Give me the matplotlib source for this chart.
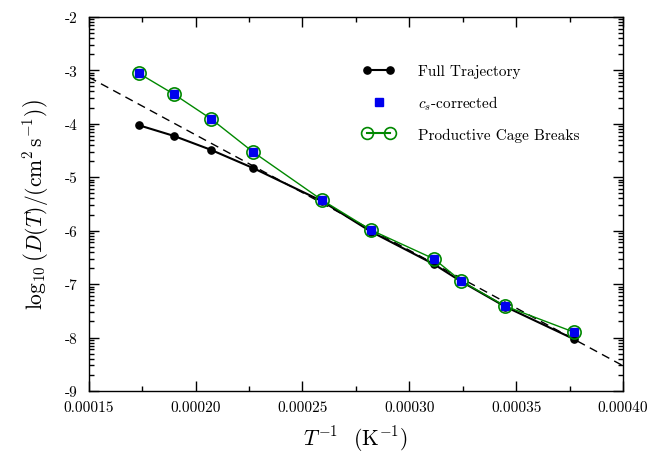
import matplotlib
matplotlib.use("Agg")
import matplotlib.pyplot as plt
import numpy as np
from matplotlib.lines import Line2D
from matplotlib.legend_handler import HandlerLine2D
from matplotlib.ticker import FixedLocator, FormatStrFormatter, MultipleLocator

plt.rcParams['font.family'] = 'serif'
plt.rcParams['font.serif'] = ['cmr10']
plt.rcParams['mathtext.fontset'] = 'cm'
plt.rcParams['axes.unicode_minus'] = False
plt.rcParams['axes.formatter.use_mathtext'] = True

# inverse temperature (1/K)
inv_T = [0.0001735, 0.0001899, 0.0002072, 0.0002269, 0.0002592,
         0.0002821, 0.0003116, 0.0003242, 0.0003448, 0.0003771]

# log10 D for each series
logD_full = [-4.03, -4.23, -4.49, -4.83, -5.45, -6.02, -6.63, -6.95, -7.42, -8.03]
logD_cs = [-3.06, -3.45, -3.91, -4.53, -5.43, -5.99, -6.53, -6.94, -7.41, -7.90]
logD_cage = [-3.06, -3.45, -3.91, -4.53, -5.43, -5.99, -6.53, -6.94, -7.41, -7.90]

# Arrhenius fit line (intercept, slope)
fit_intercept = 0.108
fit_slope = -21588.0

GREEN = '#008800'
BLUE = '#0000ee'

fig = plt.figure(figsize=(6.51, 4.60), dpi=100)
ax = fig.add_axes([0.1363, 0.1478, 0.8207, 0.8137])

xfit = np.linspace(0.00015, 0.00040, 200)
ax.plot(xfit, fit_intercept + fit_slope * xfit, color='black', linestyle=(0, (6, 4)),
        linewidth=1.0, zorder=1)

ax.plot(inv_T, logD_full, color='black', linewidth=1.5, marker='o', markersize=5.2, zorder=2)
ax.plot(inv_T, logD_cage, color=GREEN, linewidth=1.0, zorder=3)
ax.plot(inv_T, logD_cs, linestyle='none', marker='s', markersize=5.5, color=BLUE,
        markeredgecolor=BLUE, zorder=4)
ax.plot(inv_T, logD_cage, color=GREEN, linewidth=0, marker='o', markersize=9.5,
        markerfacecolor='none', markeredgewidth=1.2, zorder=5)

h_full = Line2D([], [], color='black', linewidth=1.5, marker='o', markersize=5.2)
h_cs = Line2D([], [], linestyle='none', marker='s', markersize=5.5, color=BLUE)
h_cage = Line2D([], [], color=GREEN, linewidth=1.5, marker='o', markersize=8.5,
                markerfacecolor='none', markeredgewidth=1.2)
ax.legend([h_full, h_cs, h_cage],
          ['Full Trajectory', '$c_s$-corrected', 'Productive Cage Breaks'],
          handler_map={h_cs: HandlerLine2D(numpoints=1)},
          loc='upper left', bbox_to_anchor=(0.487, 0.91),
          frameon=False, numpoints=2, handlelength=2.1, handletextpad=1.5,
          labelspacing=1.0, fontsize=11)

ax.set_xlim(0.00015, 0.00040)
ax.set_ylim(-9, -2)

ax.xaxis.set_major_locator(MultipleLocator(0.00005))
ax.xaxis.set_minor_locator(MultipleLocator(0.000025))
ax.xaxis.set_major_formatter(FormatStrFormatter('%.5f'))
ax.yaxis.set_major_locator(MultipleLocator(1))
ax.yaxis.set_major_formatter(FormatStrFormatter('%d'))
minor_y = [n + np.log10(k) for n in range(-9, -2) for k in range(2, 10)]
ax.yaxis.set_minor_locator(FixedLocator(minor_y))

ax.tick_params(which='both', direction='in', top=True, right=True, labelsize=11)
ax.tick_params(which='major', length=7, width=1.0)
ax.tick_params(which='minor', length=3.5, width=1.0)
ax.tick_params(axis='x', which='major', pad=7)
ax.tick_params(axis='y', which='major', pad=8)
for s in ax.spines.values():
    s.set_linewidth(1.0)

ax.set_xlabel(r'$T^{-1}$  (K$^{-1}$)', fontsize=15.5)
ax.set_ylabel(r'$\log_{10}\left(D(T)/(\mathrm{cm}^2\,\mathrm{s}^{-1})\right)$', fontsize=15.5)
ax.xaxis.set_label_coords(0.5, -0.085)
ax.yaxis.set_label_coords(-0.07, 0.5)

fig.savefig('out.png', dpi=100)
